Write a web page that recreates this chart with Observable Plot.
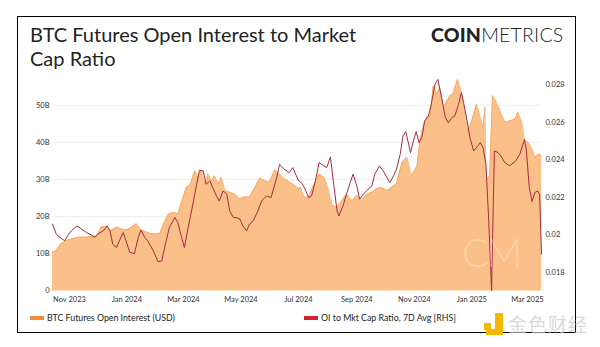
<!DOCTYPE html>
<html>
<head>
<meta charset="utf-8">
<script src="https://cdn.jsdelivr.net/npm/d3@7"></script>
<script src="https://cdn.jsdelivr.net/npm/@observablehq/plot@0.6"></script>
<style>
  html, body { margin:0; padding:0; background:#fff; }
  body { width:600px; height:347px; position:relative; overflow:hidden; font-family: Lato, "Noto Sans", sans-serif; }
  #frame { position:absolute; left:17px; top:16px; width:559px; height:317px; border:1.5px solid #000; box-sizing:border-box; }
  #title { position:absolute; left:30px; top:22px; font-size:20px; line-height:24px; color:#222; width:360px; }
  #logo { position:absolute; left:431px; top:21px; font-size:19.5px; line-height:28px; color:#222; letter-spacing:0.2px; }
  #logo b { font-weight:900; }
  #logo span { font-weight:300; }
  #chart { position:absolute; left:0; top:0; }
  .leg { position:absolute; top:312px; font-size:8.8px; line-height:11px; color:#222; }
  .sw { display:inline-block; width:14px; height:4px; vertical-align:middle; margin-right:3px; position:relative; top:-1px; }
  #cm { position:absolute; left:462px; top:228px; font-size:40px; font-weight:300; color:rgba(255,255,255,0.28); letter-spacing:-3px; }
  #wm { position:absolute; left:484px; top:313px; height:24px; }
  #wmtext { position:absolute; left:508px; top:312px; font-family:"Noto Sans CJK SC", sans-serif; font-size:19px; line-height:24px; color:rgba(200,200,200,0.7); letter-spacing:1px; }
</style>
</head>
<body>
<div id="frame"></div>
<div id="title">BTC Futures Open Interest to Market Cap Ratio</div>
<div id="logo"><b>COIN</b><span>METRICS</span></div>
<div id="chart"></div>
<div id="cm">CM</div>
<div class="leg" style="left:30px"><span class="sw" style="background:#f08c3a"></span>BTC Futures Open Interest (USD)</div>
<div class="leg" style="left:304px"><span class="sw" style="background:#d42433"></span>OI to Mkt Cap Ratio, 7D Avg [RHS]</div>
<svg id="wm" width="22" height="24"><rect x="0" y="10" width="7" height="7" fill="#f5b800"/><rect x="11" y="0" width="8" height="22" fill="#f5b800"/><rect x="2" y="16" width="17" height="6" fill="#f5b800"/></svg>
<div id="wmtext">金色财经</div>
<script>
// ---- Data ----
const oiDates = ["2023-10-14","2023-10-18","2023-10-23","2023-10-29","2023-11-03","2023-11-10","2023-11-17","2023-11-24","2023-11-30","2023-12-05","2023-12-10","2023-12-15","2023-12-21","2023-12-26","2023-12-31","2024-01-06","2024-01-11","2024-01-16","2024-01-22","2024-01-27","2024-02-02","2024-02-05","2024-02-09","2024-02-14","2024-02-19","2024-02-24","2024-02-28","2024-03-04","2024-03-08","2024-03-13","2024-03-16","2024-03-20","2024-03-24","2024-03-27","2024-03-31","2024-04-03","2024-04-07","2024-04-10","2024-04-14","2024-04-19","2024-04-24","2024-04-30","2024-05-05","2024-05-10","2024-05-16","2024-05-21","2024-05-26","2024-05-31","2024-06-06","2024-06-11","2024-06-16","2024-06-22","2024-06-27","2024-07-01","2024-07-03","2024-07-07","2024-07-12","2024-07-17","2024-07-23","2024-07-28","2024-07-31","2024-08-06","2024-08-11","2024-08-16","2024-08-21","2024-08-27","2024-09-01","2024-09-06","2024-09-12","2024-09-17","2024-09-22","2024-09-27","2024-10-03","2024-10-08","2024-10-13","2024-10-19","2024-10-24","2024-10-29","2024-11-04","2024-11-07","2024-11-11","2024-11-14","2024-11-18","2024-11-21","2024-11-25","2024-11-28","2024-12-02","2024-12-05","2024-12-09","2024-12-12","2024-12-17","2024-12-21","2024-12-25","2024-12-28","2025-01-01","2025-01-06","2025-01-10","2025-01-13","2025-01-15","2025-01-16","2025-01-20","2025-01-23","2025-01-27","2025-01-31","2025-02-05","2025-02-11","2025-02-16","2025-02-19","2025-02-23","2025-02-26","2025-03-02","2025-03-06","2025-03-09","2025-03-13","2025-03-16"];
const oiValues = [10.4,10.9,12.7,13.6,14.0,14.5,14.5,14.6,14.9,17.3,17.2,16.3,17.2,16.7,16.4,17.2,18.1,16.4,15.8,15.4,15.4,15.5,18.1,20.7,21.2,20.7,23.9,27.9,28.4,32.4,30.6,32.4,28.8,31.5,29.7,31.0,28.8,30.7,27.0,26.6,26.1,24.8,25.4,25.2,27.9,30.4,29.7,29.3,32.6,31.5,30.2,29.3,28.4,27.5,27.9,25.2,25.4,28.4,31.5,30.6,28.8,23.0,22.5,24.3,26.1,24.3,25.7,24.3,26.1,26.6,27.5,27.9,27.0,27.9,28.8,34.6,36.0,31.0,33.7,40.5,44.9,46.7,47.6,55.2,53.0,54.8,49.4,50.8,52.6,53.0,57.0,53.5,46.7,43.2,45.8,50.3,46.7,44.0,49.4,29.5,31.0,52.6,50.8,48.5,45.4,45.8,46.3,48.1,45.4,40.5,40.0,38.2,36.0,36.9,36.4];

const ratioDates = ["2023-10-14","2023-10-18","2023-10-22","2023-10-27","2023-10-31","2023-11-03","2023-11-09","2023-11-14","2023-11-19","2023-11-24","2023-11-28","2023-12-01","2023-12-07","2023-12-11","2023-12-14","2023-12-17","2023-12-21","2023-12-24","2023-12-28","2023-12-31","2024-01-04","2024-01-09","2024-01-13","2024-01-16","2024-01-20","2024-01-23","2024-01-29","2024-02-03","2024-02-07","2024-02-10","2024-02-15","2024-02-21","2024-02-24","2024-02-28","2024-03-02","2024-03-06","2024-03-11","2024-03-15","2024-03-18","2024-03-22","2024-03-25","2024-03-29","2024-04-01","2024-04-05","2024-04-08","2024-04-12","2024-04-16","2024-04-19","2024-04-23","2024-04-26","2024-04-30","2024-05-03","2024-05-07","2024-05-10","2024-05-14","2024-05-19","2024-05-23","2024-05-28","2024-06-02","2024-06-08","2024-06-11","2024-06-16","2024-06-21","2024-06-25","2024-07-01","2024-07-05","2024-07-08","2024-07-12","2024-07-15","2024-07-19","2024-07-23","2024-07-28","2024-07-31","2024-08-04","2024-08-07","2024-08-11","2024-08-13","2024-08-18","2024-08-21","2024-08-25","2024-08-28","2024-09-01","2024-09-04","2024-09-08","2024-09-13","2024-09-17","2024-09-20","2024-09-25","2024-09-29","2024-10-03","2024-10-06","2024-10-10","2024-10-13","2024-10-17","2024-10-20","2024-10-23","2024-10-28","2024-10-31","2024-11-03","2024-11-06","2024-11-09","2024-11-12","2024-11-16","2024-11-19","2024-11-23","2024-11-26","2024-11-30","2024-12-04","2024-12-07","2024-12-11","2024-12-14","2024-12-18","2024-12-21","2024-12-23","2024-12-27","2024-12-30","2025-01-03","2025-01-06","2025-01-10","2025-01-13","2025-01-16","2025-01-19","2025-01-22","2025-01-25","2025-01-29","2025-02-01","2025-02-05","2025-02-10","2025-02-16","2025-02-21","2025-02-26","2025-02-28","2025-03-03","2025-03-06","2025-03-09","2025-03-12","2025-03-14","2025-03-16"];
const ratioValues = [0.02057,0.02004,0.01986,0.01968,0.02004,0.02021,0.02048,0.0203,0.02012,0.0200,0.01986,0.02004,0.02021,0.02048,0.02021,0.0195,0.01932,0.01968,0.02012,0.01968,0.01906,0.0190,0.01986,0.02025,0.01986,0.01968,0.01915,0.01856,0.01861,0.01932,0.02039,0.02092,0.02066,0.01986,0.01932,0.02039,0.02164,0.0227,0.02345,0.02341,0.0227,0.02288,0.02252,0.02208,0.02181,0.02234,0.02217,0.02128,0.02092,0.02092,0.02084,0.02048,0.02021,0.02057,0.02075,0.02128,0.02181,0.02208,0.02199,0.02306,0.02377,0.0235,0.02332,0.02359,0.0229,0.02274,0.02244,0.02199,0.02208,0.02288,0.02386,0.02368,0.02359,0.02416,0.02288,0.02128,0.02101,0.02164,0.02217,0.02279,0.02324,0.02261,0.0219,0.02217,0.02244,0.02261,0.02324,0.02368,0.02341,0.02306,0.02279,0.02315,0.0235,0.0243,0.02528,0.02551,0.02439,0.02501,0.02551,0.02492,0.02519,0.02608,0.02635,0.02697,0.02804,0.0283,0.02732,0.02626,0.02599,0.02626,0.02635,0.02697,0.02759,0.02715,0.02608,0.02519,0.02448,0.02466,0.02492,0.02466,0.02377,0.02075,0.01701,0.02448,0.02439,0.02421,0.02386,0.02368,0.02391,0.0243,0.0251,0.02448,0.02252,0.02178,0.02226,0.02234,0.02217,0.01897];

const xTickDates = ["2023-11-01","2024-01-01","2024-03-01","2024-05-01","2024-07-01","2024-09-01","2024-11-01","2025-01-01","2025-03-01"];
const leftTickValues = [0, 10, 20, 30, 40, 50];
const leftTickLabels = ["0", "10B", "20B", "30B", "40B", "50B"];
const rightTickValues = [0.018, 0.020, 0.022, 0.024, 0.026, 0.028];
const rightTickLabels = ["0.018", "0.02", "0.022", "0.024", "0.026", "0.028"];

// ---- Build ----
const parse = d3.utcParse("%Y-%m-%d");
const oi = oiDates.map((d, i) => ({date: parse(d), value: oiValues[i]}));
const ratio = ratioDates.map((d, i) => ({date: parse(d), value: ratioValues[i]}));

// right axis mapped onto left scale (0.0170 at bottom, 0.028 -> ~55.4B)
const R0 = 0.0170, K = 5040;
const toLeft = r => (r - R0) * K;

const chart = Plot.plot({
  width: 600,
  height: 347,
  marginLeft: 52,
  marginRight: 59,
  marginTop: 75,
  marginBottom: 56.5,
  x: {type: "utc", domain: [parse("2023-10-14"), parse("2025-03-16")]},
  y: {domain: [0, 58]},
  style: {fontFamily: "Lato, 'Noto Sans', sans-serif", fontSize: "7.5px", color: "#333", background: "transparent", overflow: "visible"},
  marks: [
    Plot.gridY(leftTickValues.slice(1), {stroke: "#e9e9e9", strokeOpacity: 1, strokeWidth: 0.8}),
    Plot.areaY(oi, {x: "date", y: "value", fill: "#fbc089", curve: "linear"}),
    Plot.lineY(oi, {x: "date", y: "value", stroke: "#f4a457", strokeWidth: 0.8}),
    Plot.lineY(ratio, {x: "date", y: d => toLeft(d.value), stroke: "#a52a3e", strokeWidth: 1}),
    Plot.axisX(xTickDates.map(parse), {tickSize: 0, tickPadding: 6, tickFormat: d3.utcFormat("%b %Y"), label: null}),
    Plot.axisY(leftTickValues, {anchor: "left", tickSize: 0, tickPadding: 3, tickFormat: (d, i) => leftTickLabels[i], label: null}),
    Plot.axisY(rightTickValues.map(toLeft), {anchor: "right", tickSize: 0, tickPadding: 4, tickFormat: (d, i) => rightTickLabels[i], label: null})
  ]
});
document.getElementById("chart").appendChild(chart);
</script>
</body>
</html>
